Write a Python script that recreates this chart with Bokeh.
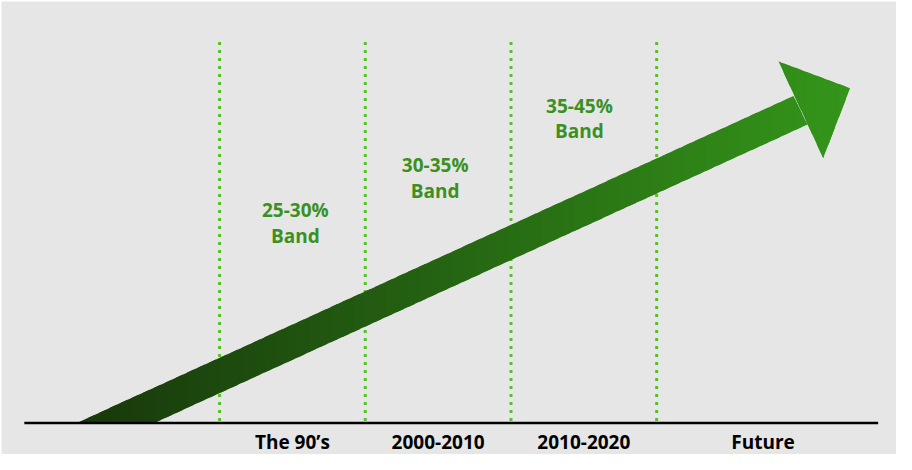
import numpy as np
from bokeh.plotting import figure
from bokeh.models import Range1d
from bokeh.core.properties import value
from bokeh.embed import file_html
from bokeh.resources import INLINE

# ---- data ----
eras = ["The 90\u2019s", "2000-2010", "2010-2020", "Future"]
era_centers = [1.5, 2.5, 3.5, 4.73]
era_bounds = [1, 2, 3, 4]
band_labels = ["25-30%", "30-35%", "35-45%"]
band_line2 = ["Band", "Band", "Band"]
band_x = [1.52, 2.48, 3.47]
band_y1 = [216, 262, 322]
band_y2 = [190, 236, 296]

# arrow outline (x in era units, y in height above baseline)
shaft_x = [0.02, 0.551, 5.034, 4.939]
shaft_y = [0, 0, 303, 332]
head_x = [4.837, 5.327, 5.143]
head_y = [367, 340, 269]
axis_x = [-0.34, 5.52]
guide_top = 390
category_y = -19

p = figure(width=896, height=454, output_backend="svg", toolbar_location=None,
           x_range=Range1d(-0.4966, 5.646), y_range=Range1d(-32, 428),
           min_border_left=1, min_border_top=1, min_border_right=0, min_border_bottom=0)
p.background_fill_color = "#e6e6e6"
p.border_fill_color = "white"
p.outline_line_color = None
p.xaxis.visible = False
p.yaxis.visible = False
p.grid.visible = False

# dotted guides (behind the arrow)
for b in era_bounds:
    p.line([b, b], [2, guide_top], line_color="#55c226", line_width=3, line_dash="3 5")

# gradient-filled arrow via overlapping vertical strips of convex pieces
def clip(poly, xmin, xmax):
    def clip_edge(pts, keep, inter):
        out = []
        n = len(pts)
        for i in range(n):
            a, b = pts[i], pts[(i + 1) % n]
            ka, kb = keep(a), keep(b)
            if ka and kb:
                out.append(b)
            elif ka and not kb:
                out.append(inter(a, b))
            elif not ka and kb:
                out.append(inter(a, b)); out.append(b)
        return out
    def ix(xc):
        def f(a, b):
            t = (xc - a[0]) / (b[0] - a[0])
            return (xc, a[1] + t * (b[1] - a[1]))
        return f
    pts = clip_edge(poly, lambda q: q[0] >= xmin, ix(xmin))
    if not pts:
        return []
    pts = clip_edge(pts, lambda q: q[0] <= xmax, ix(xmax))
    return pts

c0 = np.array([0x18, 0x38, 0x0c])
c1 = np.array([0x34, 0x96, 0x1a])
N = 70
xmin = min(shaft_x + head_x)
xmax = max(shaft_x + head_x)
edges = np.linspace(xmin, xmax, N + 1)
step = edges[1] - edges[0]
xs_all, ys_all, cols = [], [], []
for poly in (list(zip(shaft_x, shaft_y)), list(zip(head_x, head_y))):
    for i in range(N):
        hi = edges[i + 1] + (0.6 * step if i < N - 1 else 0)
        pts = clip(poly, edges[i], hi)
        if len(pts) < 3:
            continue
        t = (i + 0.5) / N
        c = (c0 + (c1 - c0) * t).astype(int)
        col = "#%02x%02x%02x" % tuple(c)
        xs_all.append([q[0] for q in pts]); ys_all.append([q[1] for q in pts]); cols.append(col)
p.patches(xs=xs_all, ys=ys_all, fill_color=cols, line_color=None)

# baseline
p.line(axis_x, [0, 0], line_color="black", line_width=2.5)

# category labels
p.text(x=era_centers, y=[category_y] * 4, text=eras, text_align="center", text_baseline="middle",
       text_font=value("Open Sans"), text_font_style="bold", text_font_size="19px", text_color="black")

# band labels
band_kw = dict(text_align="center", text_baseline="middle", text_font=value("Open Sans"),
               text_font_style="bold", text_font_size="19px", text_color="#3a9121")
p.text(x=band_x, y=band_y1, text=band_labels, **band_kw)
p.text(x=band_x, y=band_y2, text=band_line2, **band_kw)

open("out.html", "w").write(file_html(p, INLINE))
